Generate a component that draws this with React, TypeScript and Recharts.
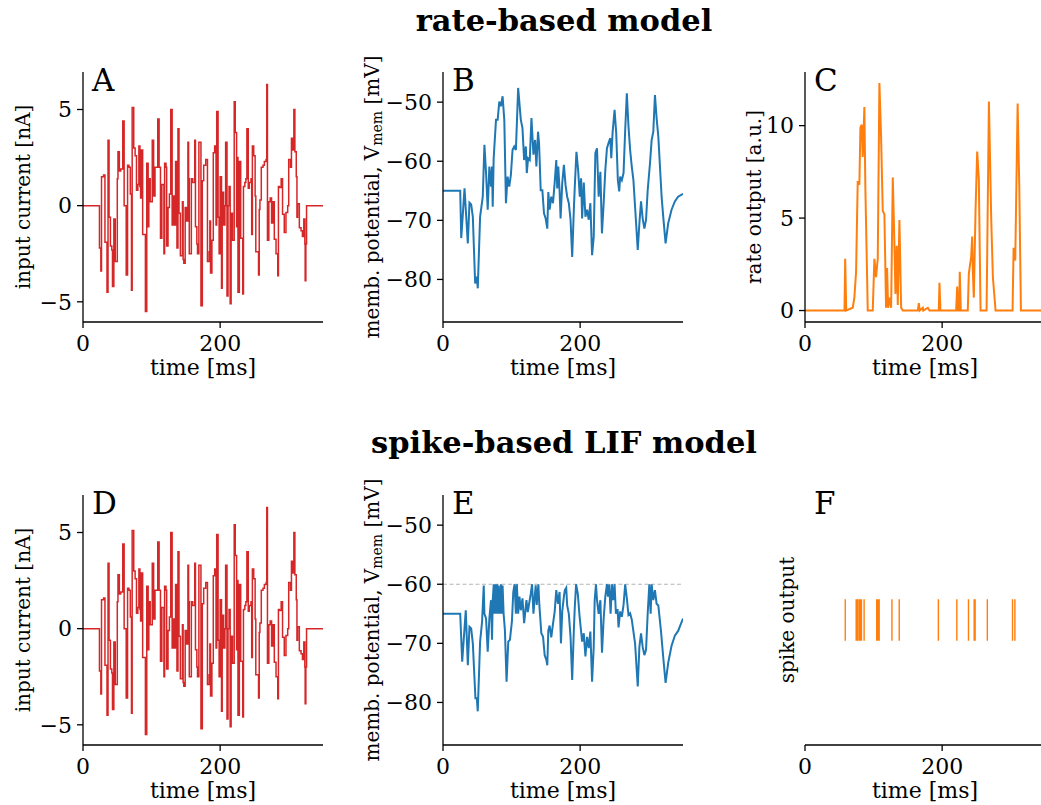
import { Line, LineChart, ReferenceLine, XAxis, YAxis } from 'recharts';

const FONT = "'DejaVu Serif', serif";

// input current [nA], step changes (same stimulus for both models)
const currentTimes = [
    0, 24, 26, 27, 30, 32, 35, 36.5, 38, 40,
    42, 43, 45, 47, 50, 51, 53, 55, 58, 60,
    63, 65, 67, 69, 70.7, 71.7, 74, 76, 78, 80,
    81.5, 83, 84, 85, 87, 89, 91, 93, 95, 96,
    98, 101, 103, 105, 107, 109, 111, 113, 115, 118,
    119, 121, 122, 124, 126, 128, 130, 132, 134, 135,
    137, 138.5, 140, 142, 145, 146, 147, 149, 151, 153,
    154, 155, 158, 160, 163, 164, 166, 167, 169, 172,
    174, 176, 179, 181.5, 184, 185, 186, 188, 190, 192,
    194, 195, 197, 198.5, 200, 202, 203, 205, 207, 208,
    210, 211.5, 213, 214.6, 216, 218, 220.5, 222, 224, 225,
    226, 228, 230, 233, 234, 236, 237.5, 239, 241, 242.5,
    245, 246, 247, 249, 251, 252, 256, 257, 258, 260,
    262.5, 264.5, 267, 268, 269, 271, 273, 275, 277, 279,
    281.5, 284, 285, 286.5, 289, 291, 293.5, 296, 298.5, 300,
    302.5, 304, 306, 307.5, 309, 311, 312, 313, 315.5, 318,
    320, 322, 323.5, 324, 325, 326, 350,
];
const currentValues = [
    0, -2.2, -3.4, 1.5, 1.6, -1.9, -4.5, 3.4, -0.6, -2.1,
    -2.3, -4.2, -0.7, -2.9, 1.4, 2.8, 1.8, 1.9, 4.4, 0,
    -3.6, 2.1, 2.0, 0.6, -4.4, 5.1, 3.0, 2.6, 0.8, 1.1,
    3.1, 1.0, 0.4, 2.9, -1.5, -1.5, -5.5, 2.2, -1.1, 1.4,
    0.2, 3.4, 0.5, 2.0, 2.0, 4.5, 2.0, -1.7, 1.1, -2.5,
    2.2, 2.0, -2.1, -0.1, 0.6, 5.0, -1.0, 0.5, -1.0, 2.3,
    -2.2, 4.0, -0.4, -2.6, 0.2, -2.8, -3.0, -0.1, -0.8, 3.3,
    1.4, -2.5, 1.4, 1.2, 3.4, -1.1, -2.0, -2.5, 3.3, -5.2,
    1.3, 2.1, 2.4, -2.9, -2.4, -0.8, -3.5, -1.8, 2.75, 3.1,
    -1.0, 4.9, -0.6, -2.5, 1.5, -4.3, 0.7, -1.0, 0.0, 3.3,
    -4.7, 0.0, 1.0, -5.1, -0.4, -1.8, 5.4, 3.8, -1.1, 2.5,
    -4.5, 2.3, -1.7, -4.6, 1.0, 1.2, 1.4, 4.0, 0.9, 1.2,
    1.4, -1.5, 3.1, 2.6, 0.5, -2.4, -3.6, -0.2, 0.3, 2.0,
    2.1, 2.3, 2.4, 6.3, -1.8, 0.2, 0.4, -0.9, 0.2, -1.75,
    -2.5, -3.65, 1.0, 0.95, 1.4, -0.45, -1.4, -0.35, 0.0, 2.4,
    2.0, 3.5, 2.9, 5.0, 2.8, 1.5, -0.6, 0.1, -1.15, -1.3,
    -1.6, -0.7, -2.0, -3.9, -2.0, 0, 0,
];

// rate model membrane potential [mV]
const rateVTimes = [
    0, 25.1, 26.6, 31.4, 36.2, 38.6, 41.1, 43.5, 46.9, 49.3,
    50.7, 54.1, 58, 60.4, 62.8, 65.2, 67.6, 70, 71.5, 72.5,
    73.9, 77.3, 79.7, 82.1, 84.5, 86.9, 89.4, 91.8, 94.2, 96.6,
    99, 101.4, 103.8, 106.3, 109.6, 113.5, 115.9, 118.3, 120.8, 122.2,
    124.1, 126.5, 129, 131.9, 134.3, 136.2, 138.6, 140.1, 142.5, 144.9,
    147.3, 149.7, 152.1, 153.6, 155.5, 157.9, 160.4, 162.8, 165.2, 166.6,
    168.1, 170, 171.5, 173.9, 176.3, 178.7, 181.1, 183.5, 186, 188.4,
    190.8, 192.2, 194.6, 197.1, 199.5, 201.4, 202.9, 205.3, 207.7, 210.1,
    212.5, 214.9, 217.4, 219.8, 222.2, 224.6, 227, 229.5, 231.8, 234.3,
    236.7, 239.1, 241.5, 243.9, 245.4, 247.3, 250.2, 252.6, 255, 257,
    258.4, 260.8, 263.3, 265.7, 268.1, 270.5, 272.9, 275.3, 277.7, 280.1,
    284, 286.4, 288.8, 291.2, 293.7, 296.1, 298.5, 301.9, 304.3, 306.7,
    309.1, 311.5, 314, 316.4, 318.8, 321.2, 324.6, 328.4, 333.3, 338.1,
    342.9, 350,
];
const rateVValues = [
    -65, -65, -73, -64.6, -73.9, -67, -67.3, -69.4, -80.7, -79.5,
    -81.5, -69.4, -66, -57.2, -62, -68.2, -60.9, -64.3, -60.9, -67.7,
    -59.5, -53, -53, -49.9, -50.7, -49, -53, -67.1, -62.6, -64.3,
    -62.3, -58.1, -57.5, -58.1, -47.6, -53, -54.4, -59.8, -57.5, -62,
    -59.5, -59.8, -52.7, -58.9, -56.4, -60.9, -55, -57, -64.9, -64.9,
    -68.8, -69.7, -71.4, -65.2, -68.2, -66, -67.1, -63.7, -59.8, -64.6,
    -60.9, -64.9, -69.7, -63.7, -60.6, -64, -66, -67.1, -69.9, -76.2,
    -68.2, -64.3, -58.4, -61.5, -66, -62.9, -69.7, -63.6, -69.4, -68.2,
    -69.9, -67.1, -75.9, -72.8, -58.6, -57.8, -66, -61.8, -72.2, -67.1,
    -61.5, -57.8, -56.9, -56.1, -59.5, -55.2, -51.3, -55.2, -63.2, -65.1,
    -62.6, -63.2, -62, -54.7, -48.5, -54.1, -58.1, -60.9, -63.2, -67.7,
    -75, -70.5, -66.8, -69.7, -71.4, -69.9, -64.9, -60.3, -56.4, -55,
    -48.8, -52.7, -55.8, -60.9, -66, -69.4, -73.9, -70.5, -68.2, -66.8,
    -66, -65.5,
];

// rate output [a.u.]
const rateTimes = [
    0, 57.6, 58.6, 60.1, 69.6, 72, 74.5, 76.9, 79.3, 80.8,
    82.7, 84.2, 86.6, 88, 90, 91.5, 98.8, 101.2, 103.6, 106.1,
    108.5, 110.9, 113.4, 115.8, 117.3, 118.2, 119.7, 121.2, 123.1, 125.6,
    128, 130.4, 131.9, 133.8, 135.3, 137.7, 140.2, 142.6, 164.5, 166,
    167.4, 171.8, 172.5, 179.1, 181.5, 195.1, 196.1, 197.5, 220.4, 221.9,
    223.3, 224.8, 225.7, 227.2, 237.4, 238.9, 242.3, 243.8, 244.8, 246.2,
    248.7, 251.1, 253.5, 256, 264.8, 268.2, 271.6, 274, 277.9, 302.7,
    304.2, 306.6, 310.1, 312.5, 314.9, 350,
];
const rateValues = [
    0, 0, 2.8, 0, 0.15, 0.7, 2.1, 7.0, 6.8, 9.9,
    10.05, 8.3, 11.0, 6.7, 2.9, 0, 0, 2.8, 1.8, 2.8,
    12.3, 9.5, 5.4, 5.2, 2.1, 0.15, 2.3, 0.15, 0.7, 0.15,
    7.2, 3.6, 0.9, 3.5, 0.3, 4.9, 0.15, 0, 0, 0.4,
    0, 0.15, 0, 0.15, 0, 0, 1.5, 0, 0, 1.3,
    0, 0, 2.1, 0, 0, 2.0, 2.9, 4.0, 2.1, 0.7,
    5.4, 8.6, 7.1, 0, 0, 11.3, 4.9, 1.8, 0, 0,
    3.4, 2.7, 11.2, 6.7, 0, 0,
];

// LIF membrane potential [mV]
const lifVTimes = [
    0, 25.1, 28, 33.2, 36.2, 38.6, 41.1, 43.5, 47.3, 49.3,
    50.7, 54.1, 57, 59.4, 60.4, 62.8, 65.2, 67.6, 70, 71.5,
    72.5, 74, 75, 76.3, 77.3, 78.7, 80.2, 81.1, 83, 84.5,
    86, 86.9, 88.4, 90.3, 92.7, 95.2, 97.6, 100.5, 102.5, 104.4,
    106.3, 107.7, 109.6, 111.5, 113.5, 115.9, 118.3, 119.7, 121.7, 123.6,
    125.6, 128, 129.9, 131.9, 133.8, 135.2, 136.7, 139.1, 140.5, 143.4,
    145.9, 148.3, 150.7, 152.1, 153.6, 155.5, 157.9, 160.4, 162.8, 165.2,
    167.6, 170, 172, 173.9, 176.3, 177.7, 179.7, 181.1, 183.5, 186,
    188.4, 190.8, 192.2, 194.1, 196.6, 199, 201.4, 202.9, 205.3, 207.7,
    210.1, 212.5, 214.9, 217.4, 219.8, 221.2, 223.1, 224.6, 227, 229.5,
    231.9, 234.3, 236.7, 239.1, 240.6, 242.5, 244.4, 246.4, 248.3, 250.2,
    252.2, 254.6, 256, 258.4, 260.8, 263.3, 265.7, 268.1, 270.5, 272.9,
    275.3, 280.1, 284, 286.4, 288.8, 291.2, 293.7, 296.1, 298.5, 300.9,
    302.8, 304.3, 306.7, 309.1, 311.5, 314, 317.8, 321.2, 324.6, 328.4,
    333.3, 338.1, 342.9, 350,
];
const lifVValues = [
    -65, -65, -73.1, -64.4, -73.7, -67.2, -67.5, -70, -79.3, -79.3,
    -81.5, -69.7, -66.3, -60.2, -65, -65.8, -71.4, -65.8, -62.7, -69.4,
    -62.7, -60, -65, -60, -65, -60, -65, -60.2, -65, -60,
    -65, -60.2, -65, -67.8, -76.5, -69.7, -69.4, -66.3, -61.3, -60,
    -65, -60, -65, -62.1, -64.4, -62.4, -66.6, -65, -62.7, -64.7,
    -63.3, -61.6, -60, -65, -62.1, -60.2, -63.5, -60, -63.5, -68.3,
    -68.9, -72, -72.8, -73.7, -67.8, -67, -69, -66.7, -64.7, -61,
    -63.3, -61.3, -70, -64.6, -62.1, -61, -60.6, -63.6, -65, -68.9,
    -76.2, -67.8, -63.9, -60, -61.6, -65.2, -68, -69.7, -68.3, -72.2,
    -68.9, -70.8, -68, -76.5, -70.6, -62.7, -60, -62.7, -65, -62.7,
    -71.6, -65.8, -62.1, -60, -62.1, -60, -65, -60, -62.7, -60,
    -65, -64.2, -67.3, -64.6, -65.5, -63.5, -60, -62.4, -65.2, -64.9,
    -66, -70, -77.3, -70.6, -68.3, -70.6, -72, -71.1, -65, -60,
    -65, -60, -62.7, -61, -63.3, -63.6, -67.8, -72.4, -76.7, -73.3,
    -70.4, -68.7, -67.9, -65.8,
];

// LIF spike times [ms]
const spikeTimes = [
    58.7, 74.6, 76.3, 78.6, 80.5, 82.3, 86.2, 104.6, 106.5, 108.2,
    126.8, 137.4, 194.5, 221.4, 238.4, 246.7, 248.1, 265.9, 302.6, 306.1,
];

const timeTicks = [0, 200];
const currentTicks = [-5, 0, 5];
const vTicks = [-80, -70, -60, -50];
const rateTicks = [0, 5, 10];
const threshold = -60;

const zip = (ts: number[], vs: number[]) => ts.map((t, i) => ({ t, v: vs[i] }));

const currentData = zip(currentTimes, currentValues);
const rateVData = zip(rateVTimes, rateVValues);
const rateData = zip(rateTimes, rateValues);
const lifVData = zip(lifVTimes, lifVValues);
const spikeData = spikeTimes.flatMap((t) => [
    { t, v: -0.5 },
    { t, v: 0.5 },
    { t, v: null },
]);

// plot area geometry (page pixels)
const PW = 240;
const PH = 250;
const PADL = 95;
const PADT = 45;
const PADR = 12;
const PADB = 70;
const COLS = [83, 443, 805];
const ROWS = [72, 495];

const axisStyle = { stroke: '#000', strokeWidth: 1.3 };
const tickStyle = { fill: '#000', fontSize: 22, fontFamily: FONT };
const fmt = (v: number) => (v < 0 ? '\u2212' + Math.abs(v) : String(v));

function xLabel(props: any) {
    const vb = props.viewBox;
    return (
        <text x={vb.x + vb.width / 2} y={vb.y + 45} textAnchor="middle" dominantBaseline="central" fontFamily={FONT} fontSize={22} fill="#000">
            time [ms]
        </text>
    );
}

function makeYLabel(text: string, dist: number, sub?: string, rest?: string) {
    return (props: any) => {
        const vb = props.viewBox;
        const x = vb.x + vb.width - dist;
        const y = vb.y + vb.height / 2;
        return (
            <text x={x} y={y} transform={`rotate(-90 ${x} ${y})`} textAnchor="middle" dominantBaseline="central" fontFamily={FONT} fontSize={20} fill="#000">
                {text}
                {sub && (
                    <tspan fontSize={14} dy={5}>
                        {sub}
                    </tspan>
                )}
                {rest && <tspan dy={sub ? -5 : 0}>{rest}</tspan>}
            </text>
        );
    };
}

type PanelProps = {
    col: number;
    row: number;
    data: any[];
    color: string;
    lineWidth: number;
    domain: [number, number];
    ticks?: number[];
    label: (p: any) => any;
    step?: boolean;
    refY?: number;
    bareY?: boolean;
};

function Panel({ col, row, data, color, lineWidth, domain, ticks, label, step, refY, bareY }: PanelProps) {
    return (
        <div style={{ position: 'absolute', left: COLS[col] - PADL, top: ROWS[row] - PADT }}>
            <LineChart
                width={PADL + PW + PADR}
                height={PADT + PH + PADB}
                data={data}
                margin={{ top: PADT, right: PADR, bottom: 0, left: 0 }}
            >
                <XAxis
                    dataKey="t"
                    type="number"
                    domain={[0, 350]}
                    ticks={timeTicks}
                    allowDataOverflow
                    height={PADB}
                    tickSize={6}
                    tickMargin={7}
                    axisLine={axisStyle}
                    tickLine={axisStyle}
                    tick={tickStyle}
                    label={{ content: xLabel }}
                />
                <YAxis
                    type="number"
                    domain={domain}
                    ticks={bareY ? [] : ticks}
                    allowDataOverflow
                    width={PADL}
                    tickSize={6}
                    tickMargin={5}
                    axisLine={bareY ? false : axisStyle}
                    tickLine={bareY ? false : axisStyle}
                    tick={bareY ? false : tickStyle}
                    tickFormatter={fmt}
                    label={{ content: label }}
                />
                {refY !== undefined && (
                    <ReferenceLine y={refY} stroke="#b5b5b5" strokeWidth={1.2} strokeDasharray="4 2.5" />
                )}
                <Line
                    dataKey="v"
                    type={step ? 'stepAfter' : 'linear'}
                    stroke={color}
                    strokeWidth={lineWidth}
                    dot={false}
                    activeDot={false}
                    connectNulls={false}
                    isAnimationActive={false}
                />
            </LineChart>
        </div>
    );
}

const RED = '#d62728';
const BLUE = '#1f77b4';
const ORANGE = '#ff7f0e';

export default function App() {
    const letters = ['A', 'B', 'C', 'D', 'E', 'F'];
    return (
        <div style={{ position: 'absolute', left: 0, top: 0, width: 1041, height: 805, overflow: 'hidden', background: '#fff' }}>
            <Panel col={0} row={0} data={currentData} color={RED} lineWidth={1.5} domain={[-6.05, 6.95]} ticks={currentTicks} label={makeYLabel('input current [nA]', 60)} step />
            <Panel col={1} row={0} data={rateVData} color={BLUE} lineWidth={2} domain={[-87.2, -44.9]} ticks={vTicks} label={makeYLabel('memb. potential, V', 71, 'mem', ' [mV]')} />
            <Panel col={2} row={0} data={rateData} color={ORANGE} lineWidth={2} domain={[-0.62, 12.9]} ticks={rateTicks} label={makeYLabel('rate output [a.u.]', 51)} />
            <Panel col={0} row={1} data={currentData} color={RED} lineWidth={1.5} domain={[-6.05, 6.95]} ticks={currentTicks} label={makeYLabel('input current [nA]', 60)} step />
            <Panel col={1} row={1} data={lifVData} color={BLUE} lineWidth={2} domain={[-87.2, -44.9]} ticks={vTicks} label={makeYLabel('memb. potential, V', 71, 'mem', ' [mV]')} refY={threshold} />
            <Panel col={2} row={1} data={spikeData} color={ORANGE} lineWidth={1.4} domain={[-3, 3]} label={makeYLabel('spike output', 18)} bareY />
            <svg width={1041} height={805} style={{ position: 'absolute', left: 0, top: 0, pointerEvents: 'none' }}>
                <text x={564} y={31} textAnchor="middle" fontFamily={FONT} fontWeight="bold" fontSize={30.5} fill="#000">
                    rate-based model
                </text>
                <text x={564} y={453} textAnchor="middle" fontFamily={FONT} fontWeight="bold" fontSize={30.5} fill="#000">
                    spike-based LIF model
                </text>
                {letters.map((l, i) => (
                    <text key={l} x={COLS[i % 3] + 9} y={ROWS[Math.floor(i / 3)] + 19} fontFamily={FONT} fontSize={31} fill="#000">
                        {l}
                    </text>
                ))}
            </svg>
        </div>
    );
}
